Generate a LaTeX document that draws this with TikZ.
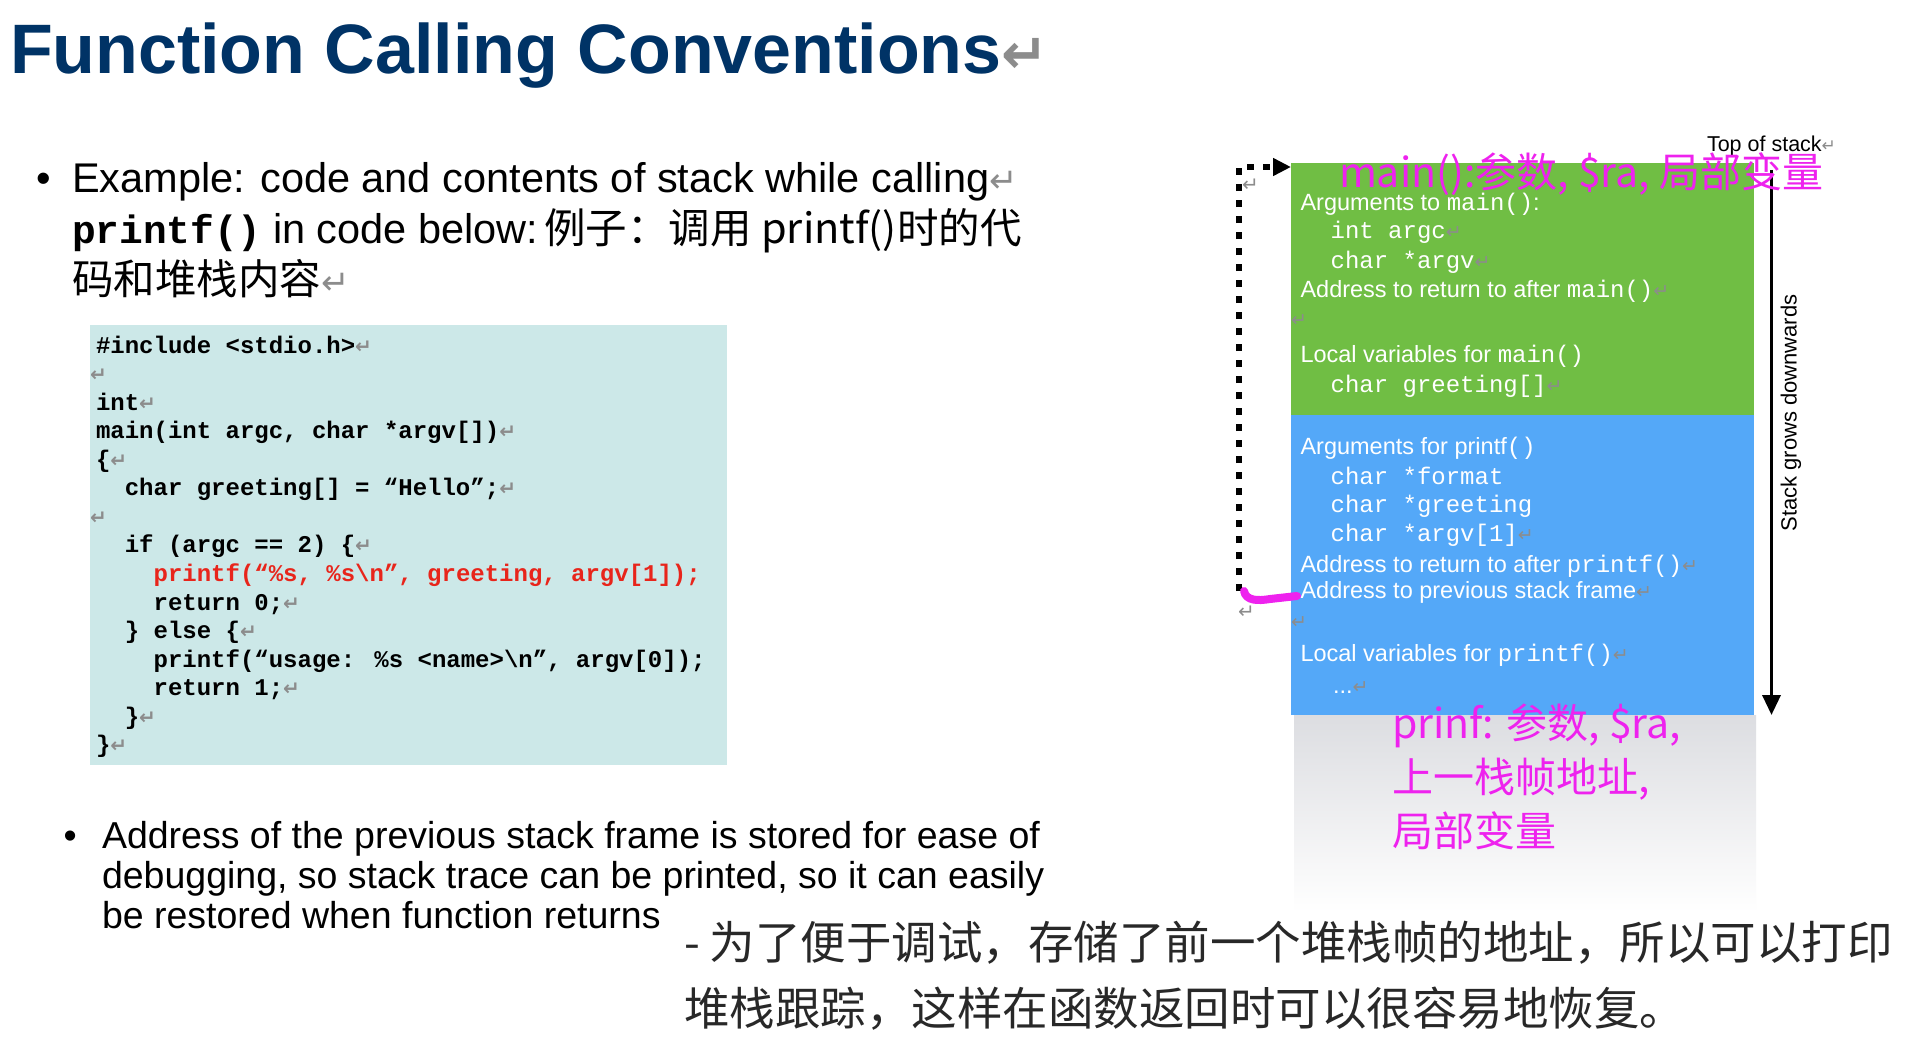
\documentclass[tikz,border=0pt]{standalone}
\usepackage{fontspec}
\setmainfont{Liberation Sans}
\newfontfamily\cjk{Noto Sans CJK SC}
\newfontfamily\mono{Liberation Mono}
\newfontfamily\retf{DejaVu Sans}
\usetikzlibrary{arrows.meta}
\definecolor{titleblue}{RGB}{0,51,102}
\definecolor{codebg}{RGB}{204,232,232}
\definecolor{codered}{RGB}{232,37,27}
\definecolor{mgreen}{RGB}{112,190,68}
\definecolor{mblue}{RGB}{84,168,248}
\definecolor{mag}{RGB}{238,34,238}
\definecolor{retgray}{RGB}{140,140,140}
\definecolor{cjkgray}{RGB}{40,40,40}
\definecolor{shadegray}{RGB}{220,221,225}
\newcommand\rt[1]{{\retf\fontsize{#1}{#1}\selectfont\textcolor{retgray}{↵}}}
\newcommand\fs[1]{\fontsize{#1}{#1}\selectfont}
\newcommand\mn[1]{{\mono\fontsize{24}{24}\selectfont #1}}
\tikzset{
  txt/.style={anchor=base west, inner sep=0pt, outer sep=0pt},
  codeln/.style={txt, font={\mono\bfseries\fontsize{24}{28}\selectfont}},
  boxln/.style={txt, text=white, font={\fontsize{23.5}{28}\selectfont}},
  magln/.style={txt, text=mag, font={\cjk\fontsize{41}{48}\selectfont}},
  bodyln/.style={txt, font={\fontsize{41.5}{50}\selectfont}},
  botln/.style={txt, font={\fontsize{37.5}{45}\selectfont}},
  zhln/.style={txt, text=cjkgray, font={\cjk\fontsize{45.5}{52}\selectfont}},
  dotlink/.style={line width=6.5pt, dash pattern=on 7pt off 9pt, line cap=butt,
    -{Triangle[length=18pt,width=17pt]}},
  growarrow/.style={line width=3.5pt, -{Triangle[length=20pt,width=18pt]}},
}
\begin{document}
\begin{tikzpicture}[x=1pt,y=-1pt]
\useasboundingbox (0,0) rectangle (1923,1046);
\fill[white] (0,0) rectangle (1923,1046);

% title
\node[txt, text=titleblue, font={\bfseries\fontsize{70}{80}\selectfont}] (title) at (10,74)
  {Function Calling Conventions\rt{56}};

% bullet 1
\node[bodyln] (b1) at (36,192.5) {•};
\node[bodyln] (l1) at (72,192.5) {Example: code and contents of stack while calling\rt{34}};
\node[bodyln] (l2) at (72,243) {{\mono\bfseries\fs{39.5}printf()} in code below:\hspace{6pt}{\cjk 例子：调用 printf()时的代}};
\node[bodyln] (l3) at (72,294) {{\cjk 码和堆栈内容}\rt{34}};

% code box
\node[fill=codebg, anchor=north west, minimum width=637pt, minimum height=440pt, inner sep=0pt] (codebox) at (90,325) {};
\node[codeln] (c0) at (96,353) {\#include <stdio.h>\rt{20}};
\node[codeln] (c1) at (90,381.6) {\rt{20}};
\node[codeln] (c2) at (96,410.1) {int\rt{20}};
\node[codeln] (c3) at (96,438.7) {main(int argc, char *argv[])\rt{20}};
\node[codeln] (c4) at (96,467.2) {\{\rt{20}};
\node[codeln] (c5) at (124.8,495.8) {char greeting[] = “Hello”;\rt{20}};
\node[codeln] (c6) at (90,524.4) {\rt{20}};
\node[codeln] (c7) at (124.8,552.9) {if (argc == 2) \{\rt{20}};
\node[codeln, text=codered] (c8) at (153.6,581.5) {printf(“\%s, \%s\textbackslash n”, greeting, argv[1]);};
\node[codeln] (c9) at (153.6,610) {return 0;\rt{20}};
\node[codeln] (c10) at (124.8,638.6) {\} else \{\rt{20}};
\node[codeln] (c11) at (153.6,667.2) {printf(“usage: \%s <name>\textbackslash n”, argv[0]);};
\node[codeln] (c12) at (153.6,695.7) {return 1;\rt{20}};
\node[codeln] (c13) at (124.8,724.3) {\}\rt{20}};
\node[codeln] (c14) at (96,752.8) {\}\rt{20}};

% bullet 2
\node[botln] (b2) at (63.5,848) {•};
\node[botln] (m1) at (102,848) {Address of the previous stack frame is stored for ease of};
\node[botln] (m2) at (102,888) {debugging, so stack trace can be printed, so it can easily};
\node[botln] (m3) at (102,928) {be restored when function returns};

% chinese note
\node[zhln] (z1) at (684,959) {- 为了便于调试，存储了前一个堆栈帧的地址，所以可以打印};
\node[zhln] (z2) at (684,1025) {堆栈跟踪，这样在函数返回时可以很容易地恢复。};

% stack diagram
\shade[top color=shadegray, bottom color=white] (1294,715) rectangle (1756,912);
\node[fill=mgreen, anchor=north west, minimum width=463pt, minimum height=251.5pt, inner sep=0pt] (gbox) at (1291,163) {};
\node[fill=mblue, anchor=north west, minimum width=463pt, minimum height=300.5pt, inner sep=0pt] (bbox) at (1291,414.5) {};

\node[boxln] (g1) at (1300.5,210) {Arguments to \mn{main()}:};
\node[boxln] (g2) at (1330.6,238) {\mn{int argc}\rt{19}};
\node[boxln] (g3) at (1330.6,268) {\mn{char *argv}\rt{19}};
\node[boxln] (g4) at (1300.5,297) {Address to return to after \mn{main()}\rt{19}};
\node[boxln] (g5) at (1291,326) {\rt{19}};
\node[boxln] (g6) at (1300.5,362) {Local variables for \mn{main()}};
\node[boxln] (g7) at (1330.6,392) {\mn{char greeting[]}\rt{19}};

\node[boxln] (p1) at (1300.5,454) {Arguments for printf\mn{()}};
\node[boxln] (p2) at (1330.6,484) {\mn{char *format}};
\node[boxln] (p3) at (1330.6,512) {\mn{char *greeting}};
\node[boxln] (p4) at (1330.6,541) {\mn{char *argv[1]}\rt{19}};
\node[boxln] (p5) at (1300.5,572) {Address to return to after \mn{printf()}\rt{19}};
\node[boxln] (prevfr) at (1300.5,598) {Address to previous stack frame\rt{19}};
\node[boxln] (p7) at (1291,628) {\rt{19}};
\node[boxln] (p8) at (1300.5,661) {Local variables for \mn{printf()}\rt{19}};
\node[boxln] (p9) at (1333,693) {...\rt{19}};

\node[txt, font={\fontsize{21.5}{24}\selectfont}] (tos) at (1707,151.5) {Top of stack\rt{17}};
\coordinate (arrtop) at (1771.5,170);
\coordinate (arrbot) at (1771.5,715);
\draw[growarrow] (arrtop) -- (arrbot);
\node[rotate=90, inner sep=0pt, font={\fontsize{22}{24}\selectfont}] (sgd) at (1791,413) {Stack grows downwards};

% dotted link from saved frame pointer back to top
\coordinate (dotbot) at (1239,591);
\draw[dotlink] (dotbot) |- ([yshift=-4pt]gbox.north west);
\node[txt] (r1) at (1242,192) {\rt{20}};
\node[txt] (r2) at (1238,618) {\rt{20}};
\draw[mag, line width=8pt, line cap=round] (1244,591) .. controls (1246,601) and (1258,601) .. (1270,599) -- (1297,596);

\node[magln] (mg1) at (1339,187) {main():参数, \$ra, 局部变量};
\node[magln] (mg2) at (1392,738) {prinf: 参数, \$ra,};
\node[magln] (mg3) at (1392,792) {上一栈帧地址,};
\node[magln] (mg4) at (1392,846) {局部变量};
\end{tikzpicture}
\end{document}
